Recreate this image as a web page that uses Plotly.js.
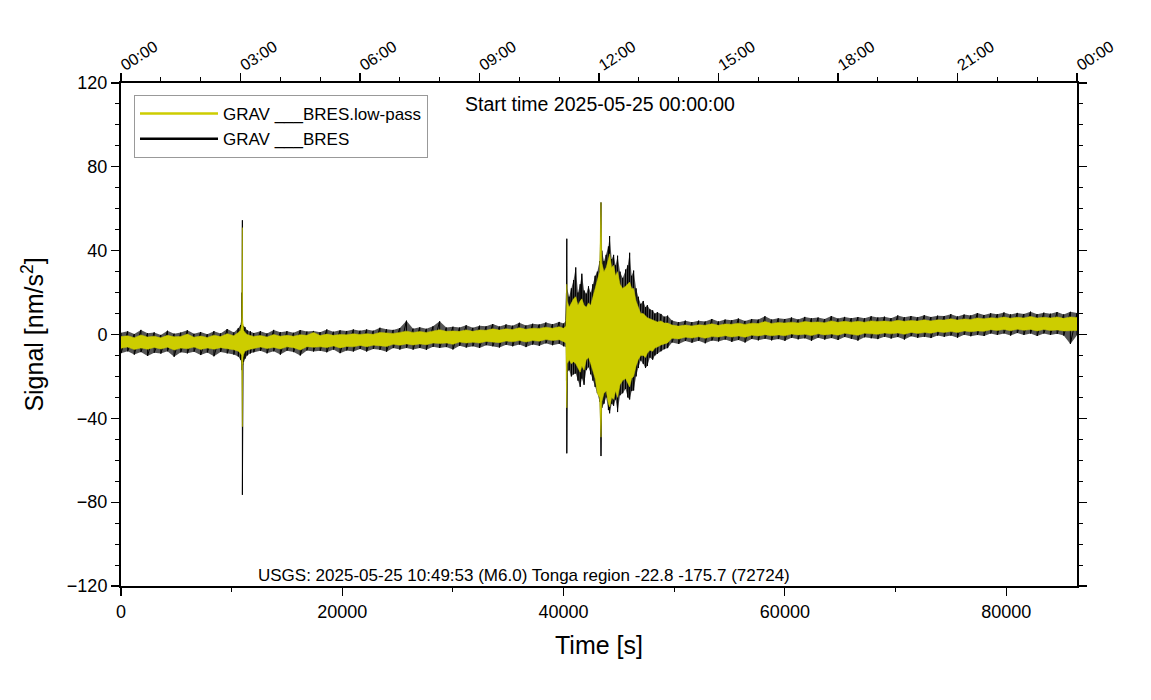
<!DOCTYPE html>
<html>
<head>
<meta charset="utf-8">
<script src="https://cdn.plot.ly/plotly-3.0.1.min.js"></script>
<style>html,body{margin:0;padding:0;background:#fff;}#chart{width:1151px;height:700px;}</style>
</head>
<body>
<div id="chart"></div>
<script>
// Time bins [s] (finer around the two events)
const T = [
  0,600,1200,1800,2400,3000,3600,4200,4800,5400,6000,6600,7200,7800,8400,9000,9600,10200,
  10600,10800,10900,10940,10970,10985,11000,11030,11080,11200,11400,11700,
  12000,12600,13200,13800,14400,15000,15600,16200,16800,17400,18000,18600,19200,19800,20400,21000,21600,22200,22800,23400,24000,24600,25200,25800,26400,27000,27600,28200,28800,29400,30000,30600,31200,31800,32400,33000,33600,34200,34800,35400,36000,36600,37200,37800,38400,39000,39600,
  40000,40200,40260,40290,40330,40500,40700,40900,41100,41300,41500,41650,41850,42050,42250,42450,42650,42850,43050,43250,43380,43460,43650,43850,44050,44160,44350,44520,44700,44880,45100,45340,45600,45800,45970,46150,46330,46550,46750,46970,47200,47400,47570,47800,48050,48250,48480,48800,49100,49400,
  49800,50400,51000,51600,52200,52800,53400,54000,54600,55200,55800,56400,57000,57600,58200,58800,59400,60000,60600,61200,61800,62400,63000,63600,64200,64800,65400,66000,66600,67200,67800,68400,69000,69600,70200,70800,71400,72000,72600,73200,73800,74400,75000,75600,76200,76800,77400,78000,78600,79200,79800,80400,81000,81600,82200,82800,83400,84000,84600,85200,85800,86400
];
// GRAV ___BRES (raw) upper / lower envelope [nm/s^2]
const rawHi = [
  0.8,1.5,0.2,2.2,0.6,1.0,-0.2,1.8,0.4,0.9,2.0,0.3,1.2,0.1,1.6,0.5,2.6,1.0,
  3.0,4.5,8.0,20.0,54.5,10.0,9.0,5.0,4.0,3.5,2.0,1.5,
  0.7,1.6,0.5,2.2,1.1,1.6,0.8,2.1,1.4,1.7,1.1,2.4,1.3,2.0,1.7,2.4,1.8,2.4,1.8,3.2,2.5,2.2,3.1,6.6,2.8,3.4,2.7,3.9,6.3,3.3,3.7,3.3,4.4,3.2,4.2,3.9,5.0,3.8,4.8,4.2,5.6,4.3,5.1,4.8,5.7,4.9,6.0,
  5.2,6.5,20.0,45.7,22.0,18.0,22.0,26.0,32.0,20.0,24.0,29.0,21.0,19.5,23.0,20.0,24.0,28.0,30.0,35.0,63.0,40.0,35.0,38.0,42.0,47.0,36.0,38.0,33.0,37.6,30.0,27.0,31.0,33.0,39.0,28.0,30.5,22.0,18.0,14.6,16.0,13.0,14.0,12.0,11.5,10.0,10.6,9.8,8.5,9.0,
  6.7,5.9,6.6,5.9,6.6,6.2,7.4,6.2,7.1,6.8,7.6,6.5,7.4,7.1,8.7,7.1,7.7,7.4,8.1,7.2,8.4,7.7,8.1,7.4,8.8,7.6,8.4,7.8,8.3,7.7,8.7,8.1,8.5,7.8,9.1,8.2,8.8,8.2,9.2,8.3,9.0,8.8,9.7,8.6,9.5,9.1,10.2,9.3,10.1,9.7,10.5,9.6,10.3,9.8,10.9,9.7,10.4,9.9,10.7,9.6,10.8,10.2
];
const rawLo = [
  -8.9,-8.0,-9.6,-8.4,-10.2,-8.7,-9.1,-8.0,-10.6,-8.5,-9.0,-8.2,-9.8,-8.6,-10.4,-8.3,-9.0,-9.6,
  -10.5,-12.0,-14.0,-17.0,-76.5,-18.0,-17.0,-15.0,-13.0,-11.5,-10.0,-9.0,
  -8.5,-7.8,-9.0,-8.0,-9.6,-7.7,-8.4,-10.0,-7.6,-8.1,-7.8,-8.5,-7.2,-8.9,-7.6,-8.1,-6.9,-8.1,-6.9,-7.3,-8.2,-6.5,-7.2,-6.4,-7.2,-6.4,-7.3,-5.9,-6.4,-6.0,-7.1,-5.4,-6.2,-5.6,-6.4,-5.1,-5.6,-6.2,-4.9,-5.6,-4.8,-6.0,-4.8,-5.4,-4.2,-5.1,-4.4,
  -5.6,-6.0,-22.0,-56.7,-18.0,-17.0,-20.0,-19.0,-18.6,-22.0,-25.0,-21.0,-24.0,-17.0,-15.6,-19.0,-22.0,-25.0,-28.0,-32.0,-58.0,-35.0,-33.0,-30.0,-36.0,-37.6,-33.0,-34.0,-31.0,-37.0,-29.0,-28.0,-26.0,-30.0,-31.0,-27.0,-26.7,-20.0,-16.0,-12.4,-14.0,-16.0,-15.0,-11.0,-12.0,-10.0,-9.2,-8.0,-7.0,-6.5,
  -3.8,-4.5,-3.1,-3.9,-3.0,-4.2,-2.9,-3.3,-2.4,-3.5,-2.6,-3.8,-2.1,-2.8,-2.0,-2.8,-2.2,-3.0,-1.6,-2.3,-1.8,-3.0,-1.5,-2.4,-1.7,-2.6,-1.2,-2.1,-2.9,-1.3,-1.8,-2.2,-1.1,-1.9,-1.2,-2.4,-0.8,-1.6,-1.1,-1.7,-0.5,-1.1,-0.5,-1.5,-0.1,-0.8,-0.2,-0.7,0.5,-0.2,0.5,-0.5,0.7,-0.2,0.5,-0.7,0.5,-0.2,0.3,-0.5,-4.5,-0.3
];
// GRAV ___BRES.low-pass upper / lower envelope [nm/s^2]
const lpHi = [
  -1.0,-0.6,-1.5,-0.2,-1.2,-0.8,-1.6,-0.4,-1.1,-0.9,0.2,-1.3,-0.7,-1.4,-0.3,-1.0,0.4,-0.6,
  1.0,2.0,5.0,19.0,51.0,8.0,6.0,3.0,2.0,1.0,0.0,-0.5,
  -0.9,-0.5,-1.2,0.0,-0.8,-0.4,-0.8,-0.1,-0.4,1.0,-0.5,0.2,-0.4,0.0,-0.1,0.3,0.0,0.4,0.1,1.0,0.6,0.5,1.0,1.6,1.0,1.4,1.0,1.8,2.3,1.5,1.7,1.5,2.2,1.5,2.2,2.0,2.7,2.1,2.7,2.4,3.2,2.5,3.0,2.9,3.5,3.0,3.7,
  3.0,4.0,14.0,24.0,16.0,13.0,15.0,17.0,18.0,14.0,16.0,17.0,14.0,13.0,15.0,14.0,18.0,22.0,27.0,30.0,63.0,34.0,30.0,32.0,36.0,38.5,32.0,33.0,28.0,30.0,24.0,22.0,23.0,24.0,25.0,22.0,22.0,16.0,13.0,10.0,10.0,9.0,8.0,7.5,7.0,6.5,6.0,6.5,5.5,5.5,
  4.5,4.0,4.5,4.1,4.6,4.4,5.1,4.4,5.0,4.9,5.4,4.8,5.4,5.2,6.2,5.3,5.7,5.5,5.9,5.5,6.2,5.8,6.0,5.6,6.5,5.8,6.3,5.9,6.3,5.9,6.5,6.2,6.4,6.1,6.8,6.3,6.7,6.4,7.0,6.5,7.0,6.9,7.5,6.9,7.4,7.2,7.9,7.5,8.0,7.8,8.3,7.8,8.2,7.9,8.6,7.9,8.2,7.9,8.4,7.7,8.4,8.1
];
const lpLo = [
  -6.6,-6.0,-7.2,-6.4,-7.0,-6.2,-6.9,-6.1,-7.4,-6.5,-6.8,-6.0,-7.1,-6.5,-7.0,-6.3,-6.8,-7.3,
  -8.0,-9.0,-10.0,-12.0,-44.0,-13.0,-14.0,-11.0,-9.5,-8.0,-7.5,-7.0,
  -6.5,-6.0,-6.7,-6.2,-6.9,-5.9,-6.3,-7.4,-5.8,-6.1,-5.9,-6.2,-5.5,-6.4,-5.7,-5.9,-5.2,-5.8,-5.1,-5.3,-5.7,-4.7,-5.1,-4.5,-5.0,-4.5,-4.9,-4.1,-4.3,-4.1,-4.7,-3.6,-4.1,-3.7,-4.1,-3.3,-3.6,-3.9,-3.1,-3.5,-2.9,-3.6,-2.9,-3.2,-2.4,-2.9,-2.5,
  -3.4,-4.0,-15.0,-35.0,-14.0,-12.0,-14.0,-13.0,-14.0,-16.0,-18.0,-15.0,-17.0,-12.0,-11.0,-14.0,-17.0,-21.0,-28.0,-30.0,-49.0,-32.0,-28.0,-27.0,-33.0,-34.6,-30.0,-31.0,-27.0,-30.0,-24.0,-22.0,-21.0,-23.0,-25.0,-21.0,-20.0,-15.0,-12.0,-10.0,-10.0,-11.0,-9.0,-7.5,-8.0,-6.5,-6.0,-5.0,-4.5,-4.0,
  -1.8,-2.1,-1.3,-1.7,-1.1,-1.8,-1.0,-1.2,-0.6,-1.2,-0.7,-1.3,-0.3,-0.7,-0.1,-0.6,-0.2,-0.6,0.2,-0.2,0.1,-0.5,0.3,-0.2,0.2,-0.3,0.6,0.0,-0.4,0.6,0.3,0.1,0.7,0.3,0.7,0.1,1.0,0.5,0.9,0.6,1.3,1.0,1.4,0.9,1.7,1.3,1.7,1.5,2.3,1.9,2.4,1.8,2.5,2.0,2.4,1.7,2.4,1.9,2.2,1.7,1.8,1.9
];
// Top axis: clock time
const clockVals = [0,10800,21600,32400,43200,54000,64800,75600,86400];
const clockText = ['00:00','03:00','06:00','09:00','12:00','15:00','18:00','21:00','00:00'];
const seriesNames = ['GRAV ___BRES.low-pass','GRAV ___BRES'];
const startText = 'Start time 2025-05-25 00:00:00';
const quakeText = 'USGS: 2025-05-25 10:49:53 (M6.0) Tonga region -22.8 -175.7 (72724)';

const YEL = '#cdcd00';
// raw trace: filled envelope (dark, partly transparent) + strokes alternating upper/lower envelope
const rawX = T.concat(T.slice().reverse());
const rawY = rawHi.concat(rawLo.slice().reverse());
const zx = [], zy = [];
T.forEach((t, i) => { zx.push(t, t); zy.push(rawHi[i], rawLo[i]); });
// low-pass trace: filled envelope band
const lpX = T.concat(T.slice().reverse());
const lpY = lpHi.concat(lpLo.slice().reverse());
const FONT = 'Liberation Sans, Arial, Helvetica, sans-serif';
const data = [
  {x:rawX, y:rawY, type:'scatter', mode:'lines', fill:'toself', fillcolor:'rgba(20,20,20,0.72)', line:{width:0}, showlegend:false, hoverinfo:'skip'},
  {x:zx, y:zy, type:'scatter', mode:'lines', line:{color:'#000', width:1}, showlegend:false, hoverinfo:'skip'},
  {x:lpX, y:lpY, type:'scatter', mode:'lines', fill:'toself', fillcolor:YEL, line:{color:YEL, width:0.5}, showlegend:false, hoverinfo:'skip'},
  {x:[null], y:[null], type:'scatter', mode:'lines', name:seriesNames[0], line:{color:YEL, width:2.5}},
  {x:[null], y:[null], type:'scatter', mode:'lines', name:seriesNames[1], line:{color:'#000', width:2.5}, xaxis:'x2'}
];
const layout = {
  width:1151, height:700,
  margin:{l:121, r:74, t:83, b:114},
  paper_bgcolor:'#fff', plot_bgcolor:'#fff',
  font:{family:FONT, size:16, color:'#000'},
  showlegend:true,
  legend:{x:0.0136, y:0.976, xanchor:'left', yanchor:'top', bgcolor:'#fff', bordercolor:'#999', borderwidth:1,
    font:{size:17}, tracegroupgap:0, itemwidth:78},
  xaxis:{range:[0,86400], dtick:20000, tick0:0, tickformat:'d', showgrid:false, zeroline:false,
    showline:true, linecolor:'#000', linewidth:2, ticks:'outside', ticklen:8, tickwidth:1.2, tickcolor:'#000',
    minor:{dtick:10000, ticks:'outside', ticklen:4, tickwidth:1, tickcolor:'#000'},
    tickfont:{size:18}, title:{text:'Time [s]', font:{size:25}, standoff:16}},
  xaxis2:{overlaying:'x', side:'top', range:[0,86400], tickmode:'array', tickvals:clockVals, ticktext:clockText,
    tickangle:-33, ticklabelstandoff:-6, showgrid:false, zeroline:false, showline:true, linecolor:'#000', linewidth:2,
    ticks:'outside', ticklen:8, tickwidth:1.2, tickcolor:'#000',
    minor:{tickmode:'linear', tick0:0, dtick:3600, ticks:'outside', ticklen:4, tickwidth:1, tickcolor:'#000'},
    tickfont:{size:16}},
  yaxis:{range:[-120,120], dtick:40, tick0:0, showgrid:false, zeroline:false,
    showline:true, linecolor:'#000', linewidth:2, mirror:'ticks', ticks:'outside', ticklen:8, tickwidth:1.2, tickcolor:'#000',
    minor:{dtick:10, ticks:'outside', ticklen:4, tickwidth:1, tickcolor:'#000'},
    tickfont:{size:18}, title:{text:'Signal [nm/s<sup>2</sup>]', font:{size:25}, standoff:16}},
  annotations:[
    {xref:'paper', yref:'paper', x:0.501, y:0.958, text:startText, showarrow:false, xanchor:'center', yanchor:'middle', font:{size:19.5}},
    {xref:'paper', yref:'paper', x:0.4216, y:0.02, text:quakeText, showarrow:false, xanchor:'center', yanchor:'middle', font:{size:17}}
  ]
};
Plotly.newPlot('chart', data, layout, {displayModeBar:false, staticPlot:true});
</script>
</body>
</html>
